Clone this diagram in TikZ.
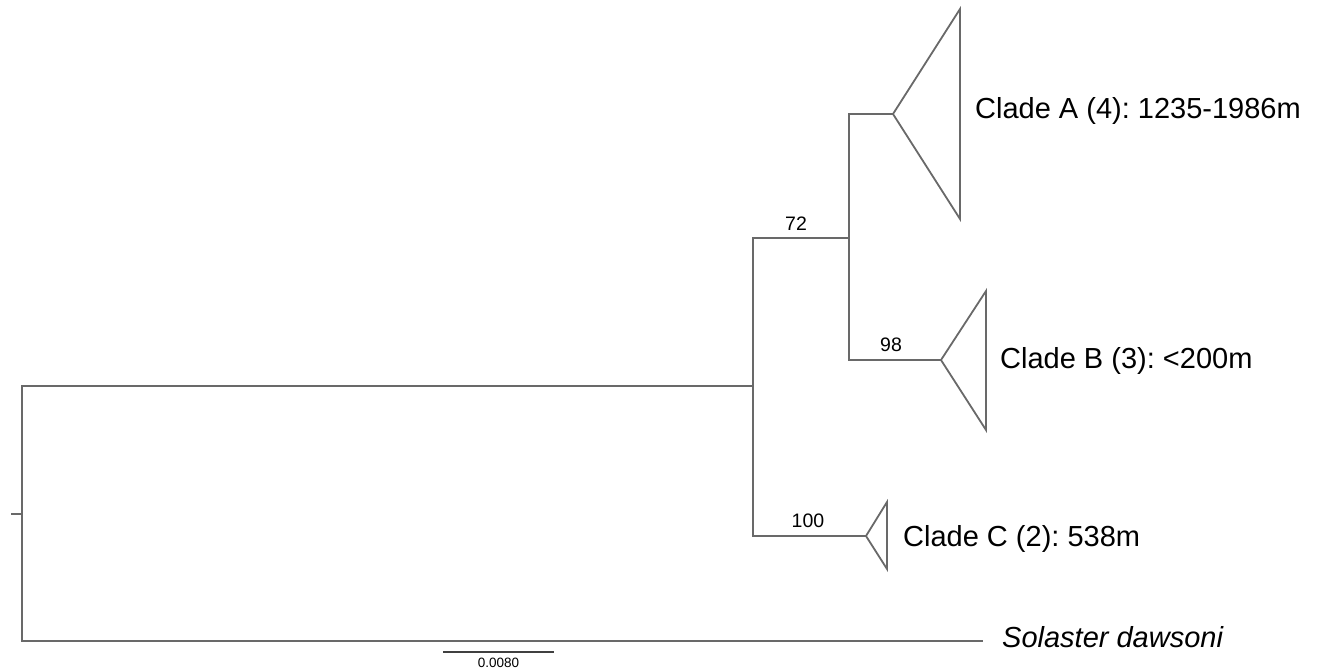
\documentclass[tikz,border=0pt]{standalone}
\usepackage{fontspec}
\setmainfont{Liberation Sans}
\definecolor{branch}{RGB}{105,105,105}
\frenchspacing
\begin{document}
\begin{tikzpicture}[x=1pt,y=-1pt,
  edge/.style={draw=branch,line width=1.8pt,line cap=rect},
  clade/.style={draw=branch,line width=1.8pt,line join=miter},
  taxon/.style={anchor=base west,inner sep=0pt,font=\fontsize{29}{31}\selectfont},
  support/.style={anchor=base,inner sep=0pt,font=\fontsize{19.5}{21}\selectfont},
  scalelbl/.style={anchor=base,inner sep=0pt,font=\fontsize{13.5}{15}\selectfont}]
\useasboundingbox (0,0) rectangle (1320,668);

% internal nodes
\coordinate (stub) at (12,514);
\coordinate (root) at (22,514);
\coordinate (rootU) at (22,386);
\coordinate (rootL) at (22,641);
\coordinate (ing) at (753,386);
\coordinate (ingU) at (753,238);
\coordinate (ingL) at (753,536);
\coordinate (ab) at (849,238);
\coordinate (abU) at (849,114);
\coordinate (abL) at (849,360);

% collapsed clades (apex, top, bottom)
\coordinate (Aapex) at (893,114);
\coordinate (Atop) at (960,9);
\coordinate (Abot) at (960,219);
\coordinate (Bapex) at (941,360);
\coordinate (Btop) at (986,291);
\coordinate (Bbot) at (986,430);
\coordinate (Capex) at (866,536);
\coordinate (Ctop) at (887,502);
\coordinate (Cbot) at (887,569);
\coordinate (outg) at (982,641);

% tree
\draw[edge] (stub) -- (root);
\draw[edge] (rootU) -- (rootL);
\draw[edge] (rootU) -- (ing);
\draw[edge] (rootL) -- (outg);
\draw[edge] (ingU) -- (ingL);
\draw[edge] (ingU) -- (ab);
\draw[edge] (abU) -- (abL);
\draw[edge] (abU) -- (Aapex);
\draw[edge] (abL) -- (Bapex);
\draw[edge] (ingL) -- (Capex);
\draw[clade] (Aapex) -- (Atop) -- (Abot) -- cycle;
\draw[clade] (Bapex) -- (Btop) -- (Bbot) -- cycle;
\draw[clade] (Capex) -- (Ctop) -- (Cbot) -- cycle;

% support values
\node[support] (s72) at (796,231) {72};
\node[support] (s98) at (891,352) {98};
\node[support] (s100) at (808,527) {100};

% tip labels
\node[taxon] (labA) at (975,119) {Clade A (4): 1235-1986m};
\node[taxon] (labB) at (1000,368) {Clade B (3): <200m};
\node[taxon] (labC) at (903,546) {Clade C (2): 538m};
\node[taxon] (labS) at (1002,647) {\itshape Solaster dawsoni};

% scale bar
\coordinate (sbL) at (443,652);
\coordinate (sbR) at (554,652);
\draw[draw=black!75,line width=1.6pt] (sbL) -- (sbR);
\node[scalelbl] (sbt) at (498.5,667) {0.0080};
\end{tikzpicture}
\end{document}
